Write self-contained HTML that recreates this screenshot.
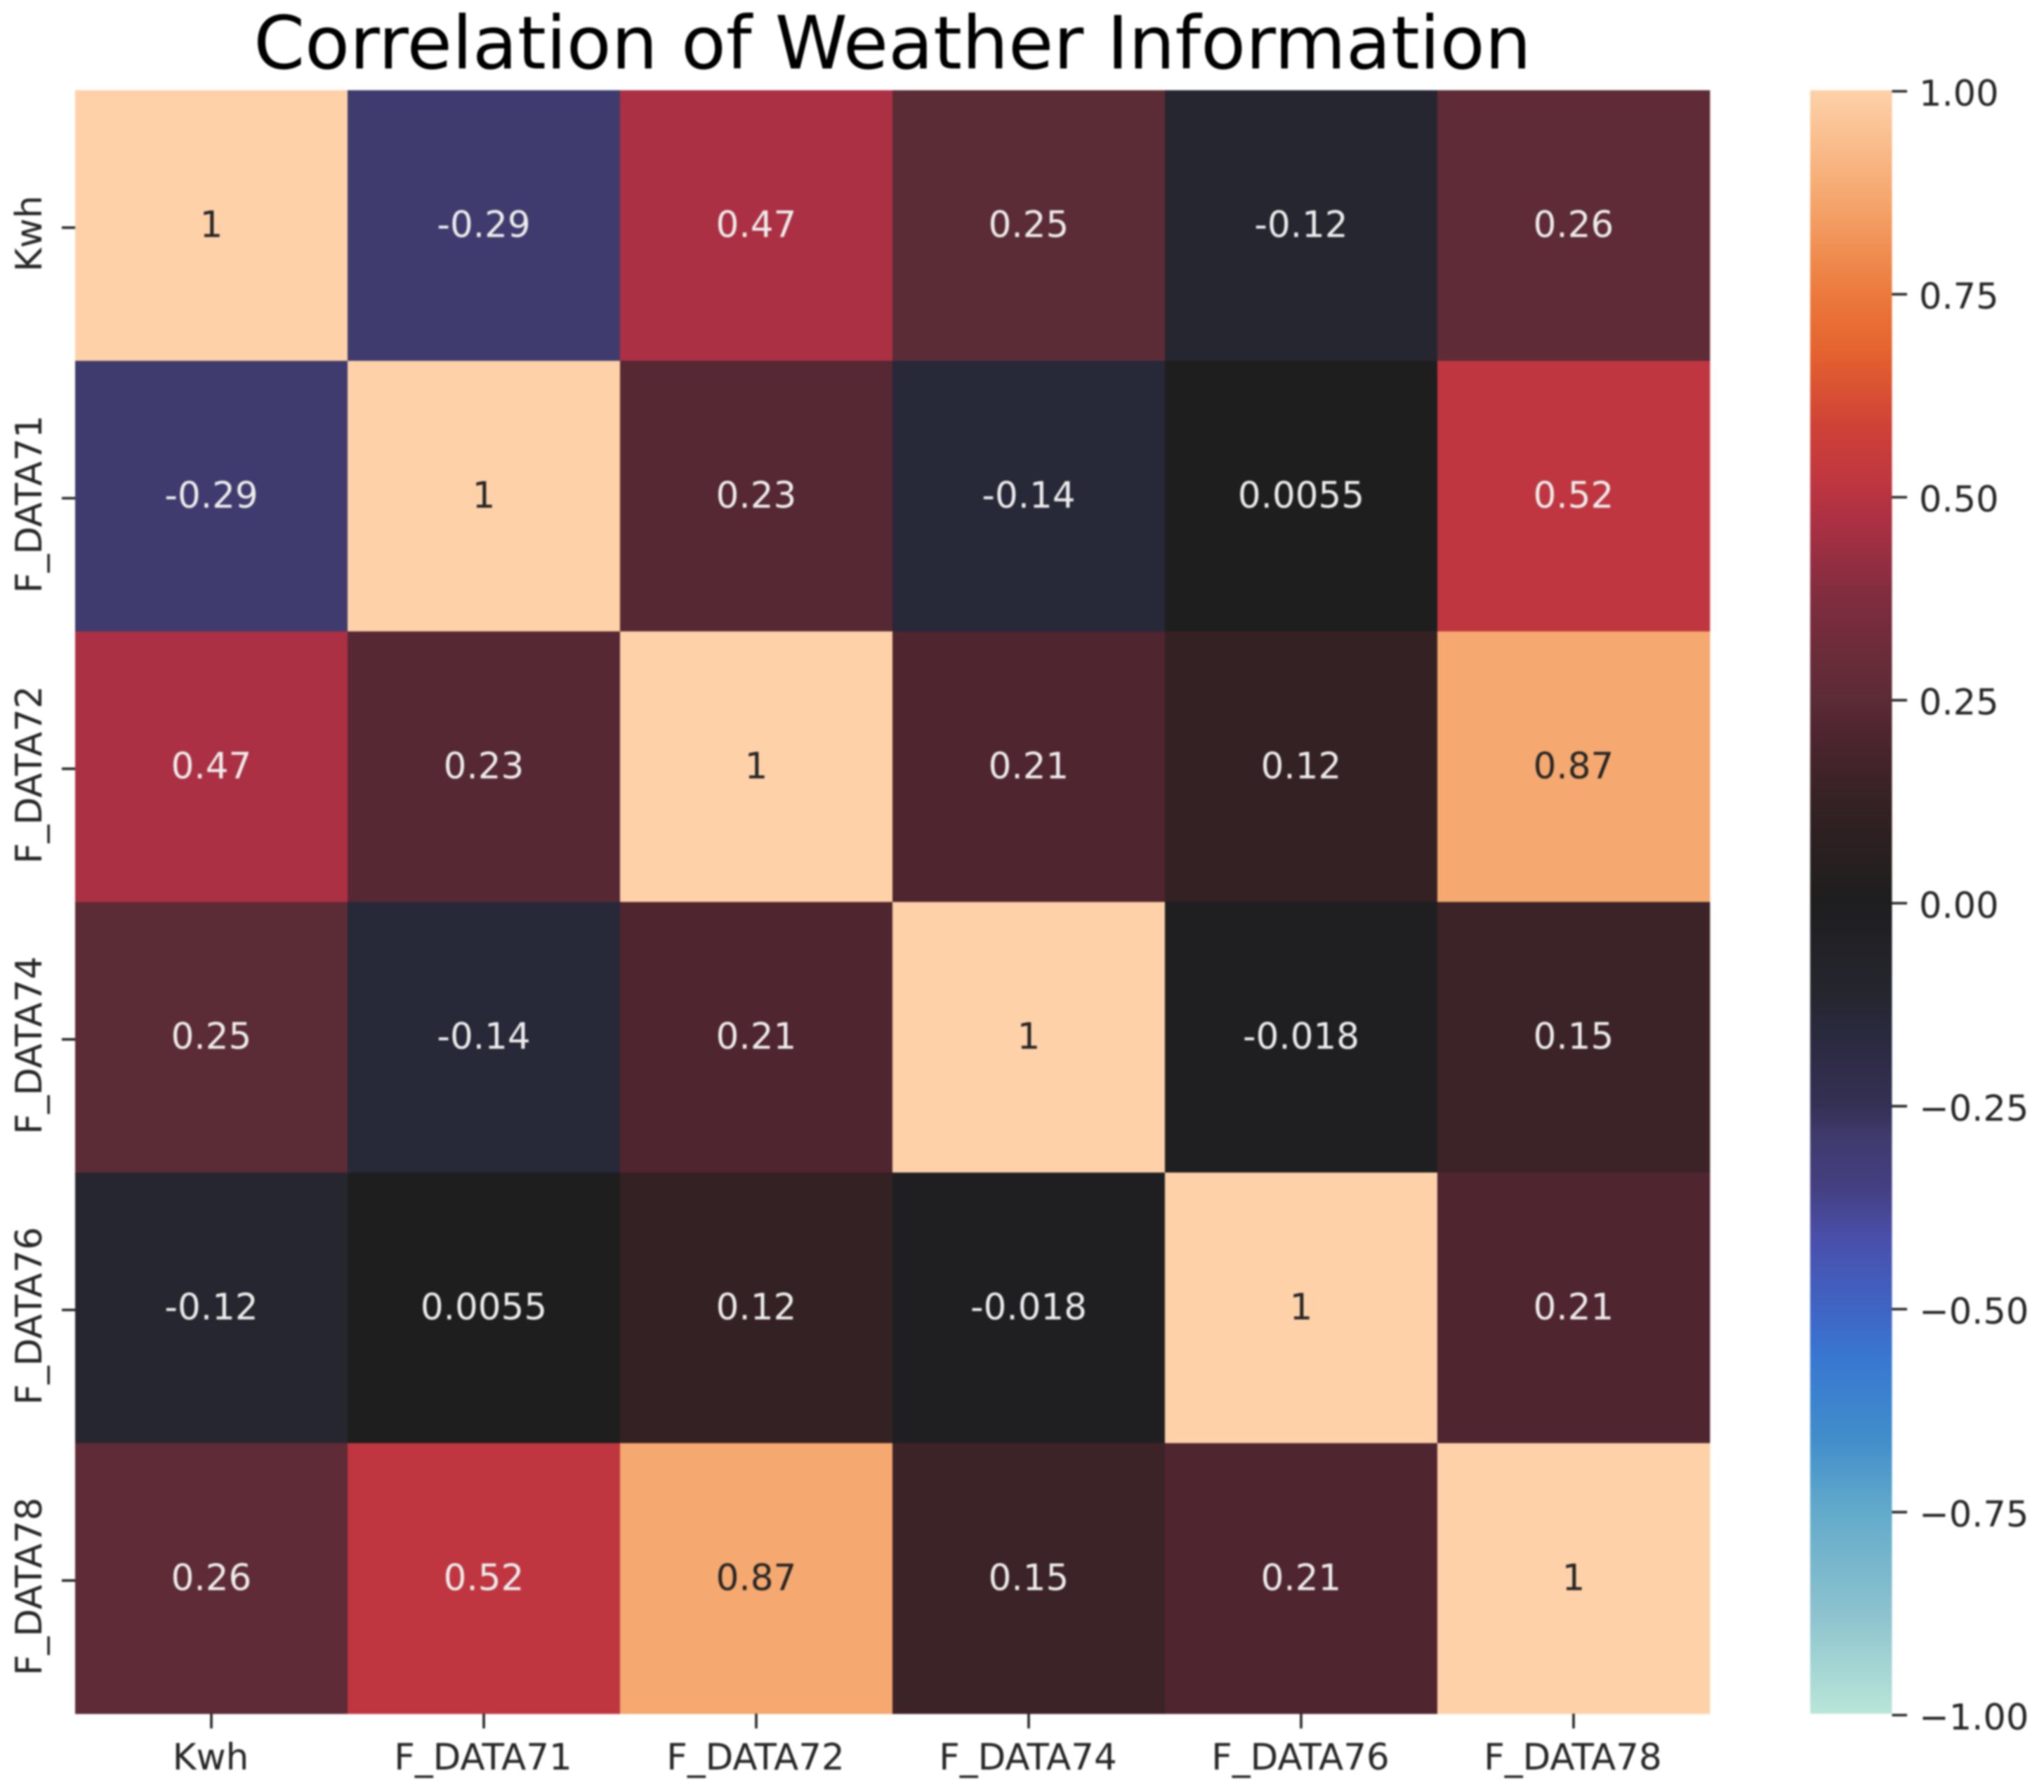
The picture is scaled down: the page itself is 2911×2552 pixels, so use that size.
<!DOCTYPE html>
<html lang="en">
<head>
<meta charset="utf-8">
<title>Correlation of Weather Information</title>
<style>
  html, body { margin: 0; padding: 0; background: #ffffff; }
  body { width: 2911px; height: 2552px; overflow: hidden; }
  svg { display: block; filter: blur(1.2px); }
  text { font-family: "DejaVu Sans", "Liberation Sans", sans-serif; }
</style>
</head>
<body>
<svg id="chart" xmlns="http://www.w3.org/2000/svg" width="2911" height="2552" viewBox="0 0 2911 2552">
  <rect x="0" y="0" width="2911" height="2552" fill="#ffffff"/>
  <text x="1271" y="97.5" font-size="104.4" text-anchor="middle" fill="#000000">Correlation of Weather Information</text>
  <g id="cells"></g>
  <g id="annotations"></g>
  <g id="x-axis"></g>
  <g id="y-axis"></g>
  <defs>
    <linearGradient id="cbar-gradient" x1="0" y1="0" x2="0" y2="1"></linearGradient>
  </defs>
  <rect x="2578" y="128.5" width="116.5" height="2312" fill="url(#cbar-gradient)"/>
  <g id="cbar-axis"></g>
</svg>
<script>
const categories = ["Kwh", "F_DATA71", "F_DATA72", "F_DATA74", "F_DATA76", "F_DATA78"];
const rowKwh = [1, -0.29, 0.47, 0.25, -0.12, 0.26];
const rowData71 = [-0.29, 1, 0.23, -0.14, 0.0055, 0.52];
const rowData72 = [0.47, 0.23, 1, 0.21, 0.12, 0.87];
const rowData74 = [0.25, -0.14, 0.21, 1, -0.018, 0.15];
const rowData76 = [-0.12, 0.0055, 0.12, -0.018, 1, 0.21];
const rowData78 = [0.26, 0.52, 0.87, 0.15, 0.21, 1];
const matrix = [rowKwh, rowData71, rowData72, rowData74, rowData76, rowData78];
const colorbarTicks = [1, 0.75, 0.5, 0.25, 0, -0.25, -0.5, -0.75, -1];
const icefireValues = [-1, -0.875, -0.75, -0.66, -0.564, -0.5, -0.41, -0.35, -0.29, -0.25, -0.14, -0.12, -0.018, 0.0055, 0.12, 0.15, 0.21, 0.23, 0.25, 0.26, 0.375, 0.47, 0.52, 0.59, 0.68, 0.75, 0.87, 1];
const icefireColors = ["#b9e6d8", "#8cc2ce", "#62aacb", "#418dcb", "#3878d1", "#3f64c4", "#4a4ea8", "#443f80", "#3f3b6e", "#343054", "#272838", "#262630", "#1f1f22", "#1f1e1e", "#342123", "#3c2327", "#4f2530", "#552833", "#5c2c36", "#5e2b36", "#7f2d3f", "#ac3043", "#bf3640", "#cf4336", "#e5632f", "#ec7a3c", "#f5a86f", "#fed1a9"];

const NS = "http://www.w3.org/2000/svg";
const plot = { left: 107, right: 2435, top: 128.5, bottom: 2440.5 };
const cbarAxis = { top: 130, bottom: 2442.5 };
const bandW = (plot.right - plot.left) / categories.length;
const bandH = (plot.bottom - plot.top) / categories.length;
const xBand = function (i) { return plot.left + i * bandW; };
const yBand = function (i) { return plot.top + i * bandH; };
const cbarY = function (v) { return cbarAxis.top + (1 - v) / 2 * (cbarAxis.bottom - cbarAxis.top); };

function hexToRgb(h) {
  return [parseInt(h.slice(1, 3), 16), parseInt(h.slice(3, 5), 16), parseInt(h.slice(5, 7), 16)];
}
function colorFor(v) {
  const c = Math.max(-1, Math.min(1, v));
  let i = 0;
  while (i < icefireValues.length - 2 && c > icefireValues[i + 1]) i++;
  const t = (c - icefireValues[i]) / (icefireValues[i + 1] - icefireValues[i]);
  const a = hexToRgb(icefireColors[i]);
  const b = hexToRgb(icefireColors[i + 1]);
  return "rgb(" + [0, 1, 2].map(function (k) { return Math.round(a[k] + (b[k] - a[k]) * t); }).join(",") + ")";
}
function make(tag, attrs, parent, content) {
  const el = document.createElementNS(NS, tag);
  Object.keys(attrs).forEach(function (k) { el.setAttribute(k, attrs[k]); });
  if (content !== undefined) el.textContent = content;
  parent.appendChild(el);
  return el;
}

const cellsG = document.getElementById("cells");
const annG = document.getElementById("annotations");
matrix.forEach(function (row, r) {
  row.forEach(function (v, c) {
    const rect = make("rect", { x: xBand(c), y: yBand(r), width: bandW + 0.4, height: bandH + 0.4, fill: colorFor(v) }, cellsG);
    
    
    const label = make("text", {
      x: xBand(c) + bandW / 2,
      y: yBand(r) + bandH / 2 + 16.5,
      "font-size": 51.5,
      "text-anchor": "middle",
      fill: v > 0.6 ? "#262626" : "#ececec"
    }, annG, String(v));
    
    
  });
});

const xAxisG = document.getElementById("x-axis");
const yAxisG = document.getElementById("y-axis");
categories.forEach(function (name, i) {
  const tx = xBand(i) + bandW / 2;
  const xt = make("line", { x1: tx, x2: tx, y1: plot.bottom, y2: plot.bottom + 21, stroke: "#262626", "stroke-width": 3.6 }, xAxisG);
  
  
  const xl = make("text", { x: tx - 1, y: 2520, "font-size": 51.5, "text-anchor": "middle", fill: "#262626" }, xAxisG, name);
  
  

  const ty = yBand(i) + bandH / 2 + 3;
  const yt = make("line", { x1: 88, x2: plot.left, y1: ty, y2: ty, stroke: "#262626", "stroke-width": 3.6 }, yAxisG);
  
  
  const yl = make("text", { x: 59, y: ty + 8.5, "font-size": 51.5, "text-anchor": "middle", fill: "#262626", transform: "rotate(-90 59 " + (ty + 8.5) + ")" }, yAxisG, name);
  
  
});

const grad = document.getElementById("cbar-gradient");
icefireValues.slice().reverse().forEach(function (v) {
  const s = make("stop", { offset: ((1 - v) / 2 * 100) + "%", "stop-color": colorFor(v) }, grad);
  
  
});

const cbarG = document.getElementById("cbar-axis");
colorbarTicks.forEach(function (v) {
  const y = cbarY(v);
  const t = make("line", { x1: 2694.5, x2: 2716, y1: y, y2: y, stroke: "#262626", "stroke-width": 3.6 }, cbarG);
  
  
  const txt = (v < 0 ? "\u2212" : "") + Math.abs(v).toFixed(2);
  const l = make("text", { x: 2733, y: y + 20.5, "font-size": 51, fill: "#262626" }, cbarG, txt);
  
  
});
</script>
</body>
</html>
